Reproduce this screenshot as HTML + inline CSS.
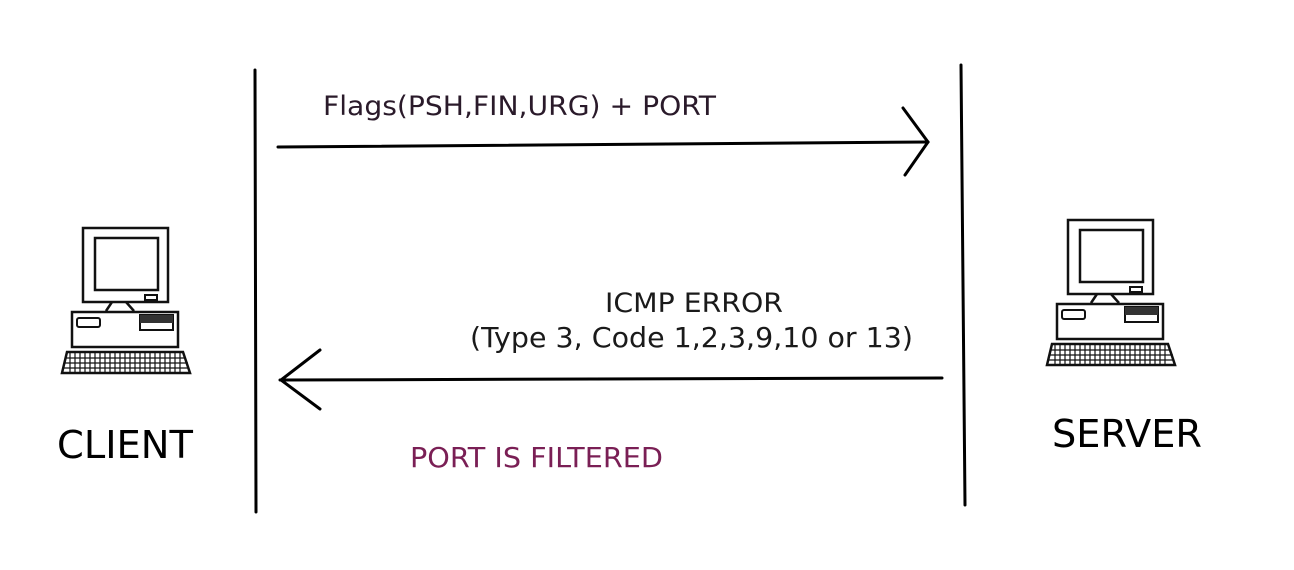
<!DOCTYPE html>
<html><head><meta charset="utf-8"><style>
html,body{margin:0;padding:0;background:#fff}
svg{display:block}
text{font-family:"DejaVu Sans","Liberation Sans",sans-serif}
</style></head><body>
<svg width="1294" height="570" viewBox="0 0 1294 570" xmlns="http://www.w3.org/2000/svg">
<defs>
<g id="pc" fill="none" stroke="#111" stroke-width="2.5">
  <rect x="83" y="228" width="85" height="74" fill="#fff"/>
  <rect x="95" y="238" width="63" height="52"/>
  <rect x="145" y="295" width="12" height="5" stroke-width="2"/>
  <path d="M112 302 L106 311 M126 302 L134 311"/>
  <rect x="72" y="312" width="106" height="35" fill="#fff"/>
  <rect x="77" y="318" width="23" height="9" rx="2" stroke-width="2"/>
  <rect x="140" y="315" width="33" height="15" stroke-width="2"/>
  <rect x="140" y="315" width="33" height="8" fill="#333" stroke="none"/>
  <path d="M67 352 L183 352 L190 373 L62 373 Z" fill="#fff"/>
  <path d="M66 358 H186 M64 363 H188 M63 368 H189" stroke-width="1.2"/>
  <path d="M70 352 V373 M75 352 V373 M80 352 V373 M85 352 V373 M90 352 V373 M95 352 V373 M100 352 V373 M105 352 V373 M110 352 V373 M115 352 V373 M120 352 V373 M125 352 V373 M130 352 V373 M135 352 V373 M140 352 V373 M145 352 V373 M150 352 V373 M155 352 V373 M160 352 V373 M165 352 V373 M170 352 V373 M175 352 V373 M180 352 V373" stroke-width="1.2"/>
</g>
</defs>
<use href="#pc"/>
<use href="#pc" transform="translate(985,-8)"/>
<g stroke="#000" stroke-width="3" fill="none" stroke-linecap="round">
  <line x1="255" y1="70" x2="256" y2="512"/>
  <line x1="961" y1="65" x2="965" y2="505"/>
  <line x1="278" y1="147" x2="928" y2="142"/>
  <path d="M903 108 L928 142 L905 175"/>
  <line x1="942" y1="378" x2="280" y2="380"/>
  <path d="M320 350 L281 380 L320 409"/>
</g>
<text x="323" y="115" font-size="27" fill="#2a1a2a" textLength="393" lengthAdjust="spacingAndGlyphs">Flags(PSH,FIN,URG) + PORT</text>
<text x="605" y="312" font-size="27" fill="#1a1a1a" textLength="178" lengthAdjust="spacingAndGlyphs">ICMP ERROR</text>
<text x="470" y="347" font-size="28" fill="#1a1a1a" textLength="443" lengthAdjust="spacingAndGlyphs">(Type 3, Code 1,2,3,9,10 or 13)</text>
<text x="57" y="458" font-size="38" fill="#000" textLength="136" lengthAdjust="spacingAndGlyphs">CLIENT</text>
<text x="1052" y="447" font-size="38" fill="#000" textLength="150" lengthAdjust="spacingAndGlyphs">SERVER</text>
<text x="410" y="467" font-size="28" fill="#7a1f55" textLength="253" lengthAdjust="spacingAndGlyphs">PORT IS FILTERED</text>
</svg>
</body></html>
